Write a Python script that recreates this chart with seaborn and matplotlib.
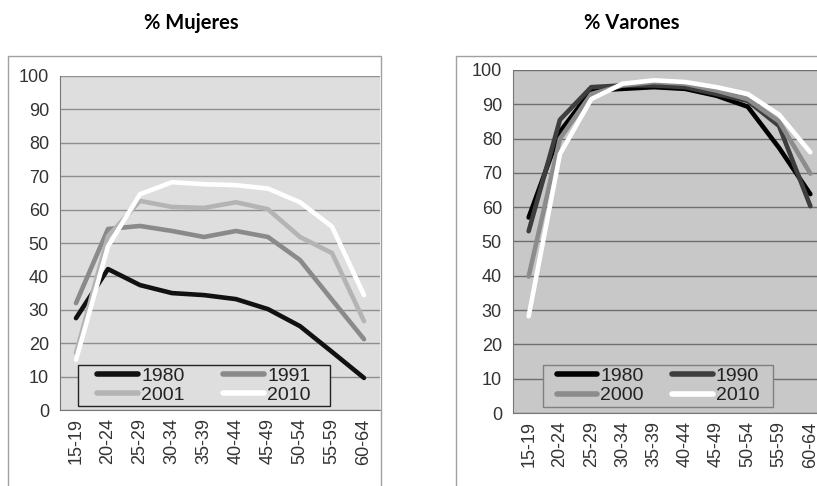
import numpy as np
import pandas as pd
import seaborn as sns
import matplotlib.pyplot as plt
from matplotlib.patches import Rectangle

# grupos de edad
edades = ["15-19", "20-24", "25-29", "30-34", "35-39",
          "40-44", "45-49", "50-54", "55-59", "60-64"]

# tasas de actividad (%)
muj_1980 = [27.5, 42.2, 37.4, 35.0, 34.4, 33.2, 30.2, 25.1, 17.4, 9.6]
muj_1991 = [32.0, 54.2, 55.1, 53.6, 51.8, 53.6, 51.8, 44.9, 33.0, 21.2]
muj_2001 = [17.0, 52.0, 62.6, 60.8, 60.5, 62.2, 60.1, 51.8, 47.0, 26.6]
muj_2010 = [15.0, 49.0, 64.6, 68.2, 67.6, 67.3, 66.3, 62.2, 54.9, 34.4]

var_1980 = [57.0, 82.0, 94.0, 94.5, 95.0, 94.5, 92.5, 89.3, 77.3, 63.8]
var_1990 = [53.0, 85.5, 95.0, 95.5, 95.5, 95.0, 93.0, 91.0, 83.7, 60.3]
var_2000 = [39.8, 80.0, 93.0, 95.5, 96.5, 96.0, 94.0, 91.5, 85.0, 69.8]
var_2010 = [28.2, 75.5, 91.5, 96.0, 97.0, 96.5, 95.0, 93.0, 87.0, 76.0]

anios_m = ["1980", "1991", "2001", "2010"]
anios_v = ["1980", "1990", "2000", "2010"]


def a_largo(series, anios):
    filas = []
    for anio, vals in zip(anios, series):
        for e, v in zip(edades, vals):
            filas.append({"edad": e, "valor": v, "anio": anio})
    return pd.DataFrame(filas)


df_m = a_largo([muj_1980, muj_1991, muj_2001, muj_2010], anios_m)
df_v = a_largo([var_1980, var_1990, var_2000, var_2010], anios_v)

pal_m = dict(zip(anios_m, ["#111111", "#8a8a8a", "#b4b4b4", "#ffffff"]))
pal_v = dict(zip(anios_v, ["#000000", "#3e3e3e", "#8c8c8c", "#ffffff"]))

sns.set_style("white")
plt.rcParams["font.family"] = ["Liberation Sans", "DejaVu Sans"]

fig = plt.figure(figsize=(8.17, 4.86), dpi=100)

# marcos exteriores de cada gráfico
fig.patches.append(Rectangle((8 / 817, -0.1), 373 / 817, 1.1 - 56 / 486,
                             transform=fig.transFigure, fill=False,
                             edgecolor="#a0a0a0", lw=1))
fig.patches.append(Rectangle((456 / 817, -0.1), 0.6, 1.1 - 56 / 486,
                             transform=fig.transFigure, fill=False,
                             edgecolor="#a0a0a0", lw=1))

ax1 = fig.add_axes([60 / 817, 76 / 486, 320 / 817, 334 / 486])
ax2 = fig.add_axes([513 / 817, 73 / 486, 313 / 817, 343 / 486])


def dibujar(ax, df, pal, anios, fondo, grid_color, leg_edge, caja, centro,
            colsep):
    ax.set_facecolor(fondo)
    sns.lineplot(data=df, x="edad", y="valor", hue="anio", palette=pal,
                 hue_order=anios, lw=3.3, ax=ax, sort=False)
    ax.set_xlim(-0.5, 9.5)
    ax.set_ylim(0, 100)
    ax.set_yticks(range(0, 101, 10))
    ax.set_xticks(range(10))
    ax.set_xticklabels(edades, rotation=90)
    ax.set_xticks(np.arange(-0.5, 10, 1), minor=True)
    ax.tick_params(axis="x", which="major", length=0, pad=6,
                   labelsize=13, labelcolor="#333333")
    ax.tick_params(axis="x", which="minor", length=5, color="#777777",
                   direction="out")
    ax.tick_params(axis="y", length=5, color="#777777", labelsize=13,
                   labelcolor="#333333", pad=3)
    ax.yaxis.grid(True, color=grid_color, lw=1)
    ax.set_axisbelow(True)
    for s in ["top", "right"]:
        ax.spines[s].set_visible(False)
    for s in ["left", "bottom"]:
        ax.spines[s].set_color("#777777")
    ax.set_xlabel("")
    ax.set_ylabel("")
    # caja de la leyenda
    ax.add_patch(Rectangle((caja[0], caja[1]), caja[2], caja[3],
                           transform=ax.transAxes, facecolor=fondo,
                           edgecolor=leg_edge, lw=1, zorder=4))
    h, l = ax.get_legend_handles_labels()
    orden = [0, 2, 1, 3]
    leg = ax.legend([h[i] for i in orden], [l[i] for i in orden], ncol=2,
                    loc="center", bbox_to_anchor=centro,
                    fontsize=14, frameon=False,
                    handlelength=2.1, handletextpad=0.15, labelspacing=0.1,
                    borderpad=0.1, columnspacing=colsep, borderaxespad=0)
    leg.set_zorder(5)
    for ln in leg.get_lines():
        ln.set_linewidth(4)
    for t in leg.get_texts():
        t.set_color("#222222")


dibujar(ax1, df_m, pal_m, anios_m, "#dedede", "#8f8f8f", "#222222",
        (0.056, 0.012, 0.788, 0.123), (0.45, 0.073), 2.0)
dibujar(ax2, df_v, pal_v, anios_v, "#c8c8c8", "#6e6e6e", "#808080",
        (0.096, 0.0175, 0.735, 0.122), (0.463, 0.079), 1.45)

fig.text(191 / 817, 1 - 23 / 486, "% Mujeres", ha="center", va="center",
         fontsize=14.5, fontweight="bold", family="Lato", color="black")
fig.text(632 / 817, 1 - 23 / 486, "% Varones", ha="center", va="center",
         fontsize=14.5, fontweight="bold", family="Lato", color="black")

fig.savefig("out.png", dpi=100)
